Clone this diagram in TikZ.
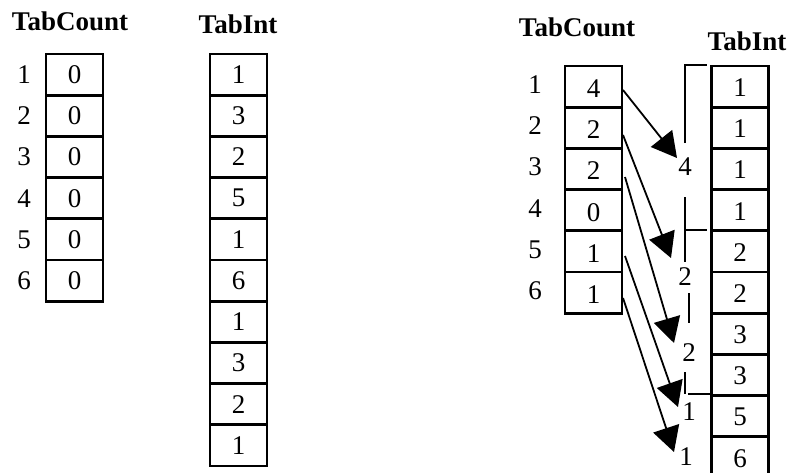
\documentclass[tikz,border=0pt]{standalone}
\usepackage{fontspec}
\setmainfont{Liberation Serif}
\usetikzlibrary{arrows.meta}
\begin{document}
\begin{tikzpicture}[x=1pt,y=-1pt,
  cell/.style={draw, line width=2.7pt, minimum width=57pt, minimum height=41.2pt, inner sep=0pt, outer sep=0pt},
  num/.style={inner sep=0pt, font=\fontsize{27}{32}\selectfont},
  title/.style={inner sep=0pt, anchor=base, font=\fontsize{27}{32}\selectfont\bfseries},
  arr/.style={line width=1.8pt, -{Triangle[length=25pt,width=27pt]}},
  brk/.style={line width=2.6pt},
  tick/.style={line width=2.2pt}
]
\path[use as bounding box] (0,0) rectangle (787,472);
\clip (0,0) rectangle (787,472);

% ---------- left: titles ----------
\node[title] (t1) at (70,30) {TabCount};
\node[title] (t2) at (238,33) {TabInt};

% left TabCount
\foreach \v [count=\i] in {0,0,0,0,0,0}{
  \node[cell] (lc\i) at (74.5,{54+41.2*(\i-0.5)}) {};
  \node[num] (lv\i) at (lc\i.center) {\v};
  \node[num] (li\i) at (24,{54+41.2*(\i-0.5)}) {\i};
}
% left TabInt
\foreach \v [count=\i] in {1,3,2,5,1,6,1,3,2,1}{
  \node[cell] (lt\i) at (238.5,{54+41.2*(\i-0.5)}) {};
  \node[num] (ltv\i) at (lt\i.center) {\v};
}

% ---------- right: titles ----------
\node[title] (t3) at (577,36) {TabCount};
\node[title] (t4) at (747,50) {TabInt};

% right TabCount
\foreach \v [count=\i] in {4,2,2,0,1,1}{
  \node[cell] (rc\i) at (593.5,{66+41.2*(\i-0.5)}) {};
  \node[num] (rv\i) at ([yshift=-2pt]rc\i.center) {\v};
  \node[num] (ri\i) at (535,{66+41.2*(\i-0.5)-2}) {\i};
}
% right TabInt
\foreach \v [count=\i] in {1,1,1,1,2,2,3,3,5,6}{
  \node[cell] (rt\i) at (740,{66+41.2*(\i-0.5)}) {};
  \node[num] (rtv\i) at ([yshift=-1pt]rt\i.center) {\v};
}

% group counts
\node[num] (g1) at (685,167) {4};
\node[num] (g2) at (685,277) {2};
\node[num] (g3) at (689,353) {2};
\node[num] (g4) at (689,412) {1};
\node[num] (g5) at (686,457) {1};

% bracket pieces
\draw[brk] (685,143) -- (685,65);
\draw[tick] (684,65) -- (707,65);
\draw[brk] (685,197) -- (685,262);
\draw[tick] (685,230) -- (707,230);
\draw[brk] (689,293) -- (689,323);
\draw[brk] (685,372) -- (685,394);
\draw[tick] (688,394) -- (712,394);

% arrows
\coordinate (s1) at (623,90);  \coordinate (e1) at (677,158);
\coordinate (s2) at (623,135); \coordinate (e2) at (671,258);
\coordinate (s3) at (625,177); \coordinate (e3) at (674,343);
\coordinate (s4) at (625,256); \coordinate (e4) at (678,407);
\coordinate (s5) at (623,298); \coordinate (e5) at (674,452);
\foreach \k in {1,...,5}{ \draw[arr] (s\k) -- (e\k); }
\end{tikzpicture}
\end{document}
